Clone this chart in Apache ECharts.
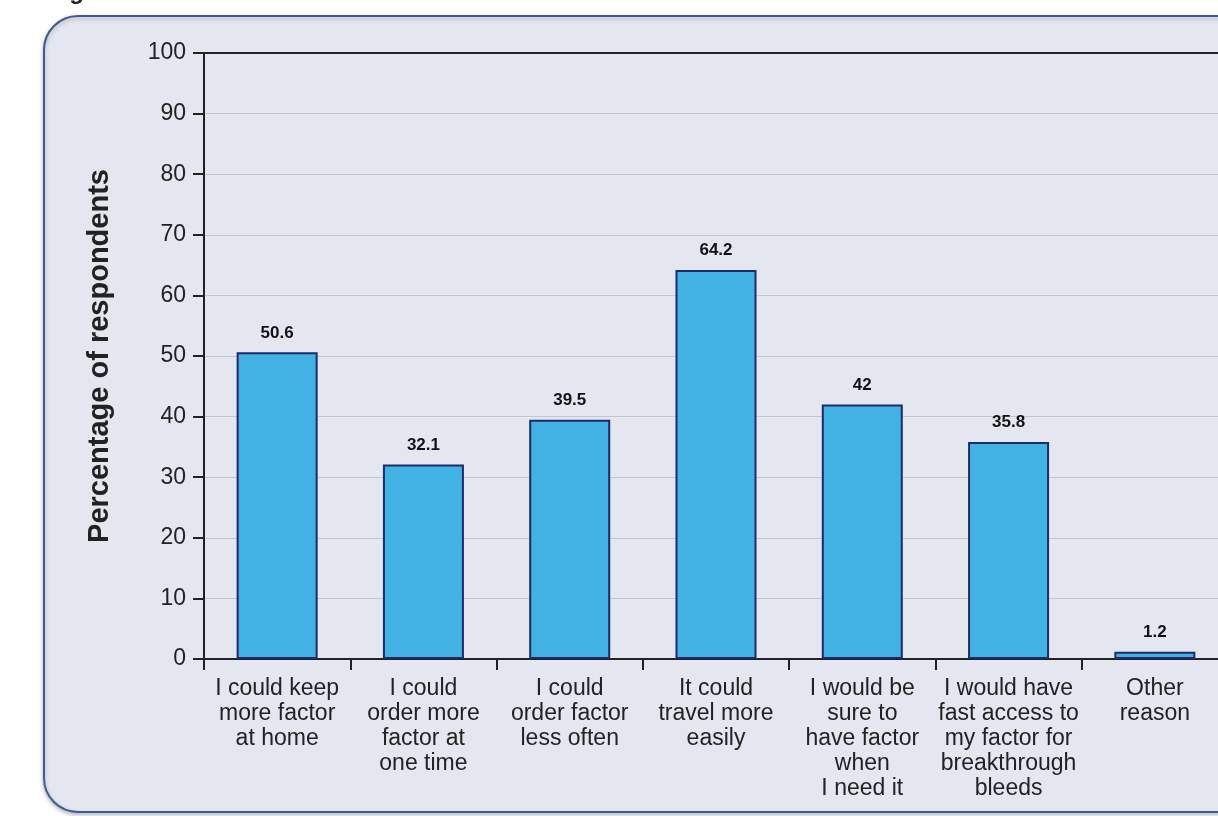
<!DOCTYPE html>
<html>
<head>
<meta charset="utf-8">
<script src="https://cdn.jsdelivr.net/npm/echarts@6/dist/echarts.min.js"></script>
<style>
  html, body { margin: 0; padding: 0; background: #ffffff; }
  #chart { width: 1218px; height: 816px; }
</style>
</head>
<body>
<div id="chart"></div>
<script>
// Reasons respondents gave (category labels, already broken into lines)
const categories = [
  'I could keep\nmore factor\nat home',
  'I could\norder more\nfactor at\none time',
  'I could\norder factor\nless often',
  'It could\ntravel more\neasily',
  'I would be\nsure to\nhave factor\nwhen\nI need it',
  'I would have\nfast access to\nmy factor for\nbreakthrough\nbleeds',
  'Other\nreason'
];
// Percentage of respondents choosing each reason
const percentages = [50.6, 32.1, 39.5, 64.2, 42, 35.8, 1.2];
const yAxisName = 'Percentage of respondents';

const chart = echarts.init(document.getElementById('chart'), null, { renderer: 'canvas' });

const fontFamily = 'Arial, "Liberation Sans", Helvetica, sans-serif';

chart.setOption({
  animation: false,
  backgroundColor: '#ffffff',
  graphic: [
    {
      type: 'rect',
      z: -10,
      shape: { x: 44, y: 16, width: 1240, height: 796, r: 34 },
      style: {
        fill: '#e4e7f0',
        stroke: '#3d5a96',
        lineWidth: 2,
        shadowBlur: 4,
        shadowOffsetY: 2,
        shadowColor: 'rgba(0,0,0,0.25)'
      }
    },
    {
      type: 'text',
      left: 48,
      top: -20,
      style: {
        text: 'Figure',
        font: 'bold 24px ' + fontFamily,
        fill: '#222222'
      }
    }
  ],
  grid: {
    left: 204,
    top: 53,
    width: 1024,
    bottom: 157,
    containLabel: false,
    outerBoundsMode: 'none'
  },
  xAxis: [
    {
      type: 'category',
      data: categories,
      boundaryGap: true,
      axisLine: { show: true, lineStyle: { color: '#222222', width: 2 } },
      axisTick: { show: true, length: 11, lineStyle: { color: '#222222', width: 2 } },
      axisLabel: {
        interval: 0,
        margin: 17,
        fontSize: 23,
        lineHeight: 25,
        color: '#222222',
        fontFamily: fontFamily
      },
      splitLine: { show: false }
    },
    {
      type: 'category',
      position: 'top',
      data: categories,
      axisLine: { show: true, lineStyle: { color: '#222222', width: 2 } },
      axisTick: { show: false },
      axisLabel: { show: false },
      splitLine: { show: false }
    }
  ],
  yAxis: {
    type: 'value',
    min: 0,
    max: 100,
    interval: 10,
    name: yAxisName,
    nameLocation: 'middle',
    nameGap: 90,
    nameTextStyle: {
      fontSize: 29,
      fontWeight: 'bold',
      color: '#222222',
      fontFamily: fontFamily
    },
    axisLine: { show: true, lineStyle: { color: '#222222', width: 2 } },
    axisTick: { show: true, length: 11, lineStyle: { color: '#222222', width: 2 } },
    axisLabel: {
      margin: 18,
      fontSize: 23,
      color: '#222222',
      fontFamily: fontFamily
    },
    splitLine: { show: true, lineStyle: { color: '#c3c5cc', width: 1 } }
  },
  series: [
    {
      type: 'bar',
      data: percentages,
      xAxisIndex: 0,
      barWidth: 81,
      itemStyle: {
        color: '#42b1e4',
        borderColor: '#1f2a6b',
        borderWidth: 2
      },
      label: {
        show: true,
        position: 'top',
        distance: 11,
        fontSize: 17,
        fontWeight: 'bold',
        color: '#111111',
        fontFamily: fontFamily
      }
    }
  ]
});
</script>
</body>
</html>
